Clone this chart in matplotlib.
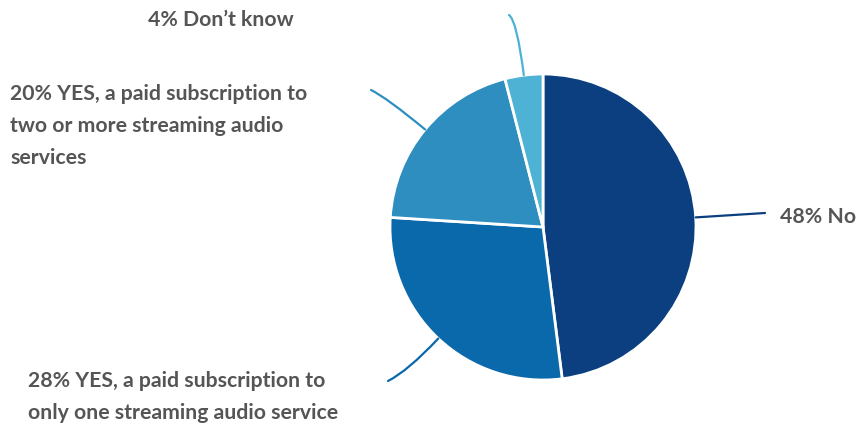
import numpy as np
import matplotlib.pyplot as plt
from matplotlib.path import Path
from matplotlib.patches import PathPatch

# Survey answers, clockwise from the top
labels = ["48% No",
          "28% YES, a paid subscription to\nonly one streaming audio service",
          "20% YES, a paid subscription to\ntwo or more streaming audio\nservices",
          "4% Don\u2019t know"]
shares = [48, 28, 20, 4]
colors = ["#0b3f80", "#0a69aa", "#2e8ec0", "#4db2d4"]

W, H = 858, 427
cx, cy, r = 543, 199, 153

# where each leader line ends and where its label sits (pixel units, y up)
line_ends = [(765, 213), (388, 45), (371, 336), (509, 411)]
text_pos = [(780, 210), (28, 30), (10, 301), (148, 407)]
bend = [0, 45, 50, 55]

fig = plt.figure(figsize=(W / 100, H / 100), dpi=100)
ax = fig.add_axes([0, 0, 1, 1])

wedges, _ = ax.pie(shares, colors=colors, startangle=90, counterclock=False,
                   center=(cx, cy), radius=r, frame=True,
                   wedgeprops=dict(edgecolor="white", linewidth=2))
ax.set_xlim(0, W)
ax.set_ylim(0, H)
ax.set_aspect("equal")
ax.axis("off")

for w, c, end, k, lab, tp in zip(wedges, colors, line_ends, bend, labels, text_pos):
    ang = np.deg2rad((w.theta1 + w.theta2) / 2)
    d = np.array([np.cos(ang), np.sin(ang)])
    p0 = np.array([cx, cy]) + d * r
    p1 = p0 + d * k if k else (p0 + np.array(end)) / 2
    path = Path([p0, p1, end], [Path.MOVETO, Path.CURVE3, Path.CURVE3])
    ax.add_patch(PathPatch(path, fill=False, edgecolor=c, linewidth=1.6,
                           capstyle="round"))
    ax.text(tp[0], tp[1], lab, ha="left", va="center", fontsize=15.3,
            fontweight="bold", family=["Lato", "DejaVu Sans"],
            color="#555555", linespacing=1.72)

fig.savefig("out.png", dpi=100, facecolor="white")
